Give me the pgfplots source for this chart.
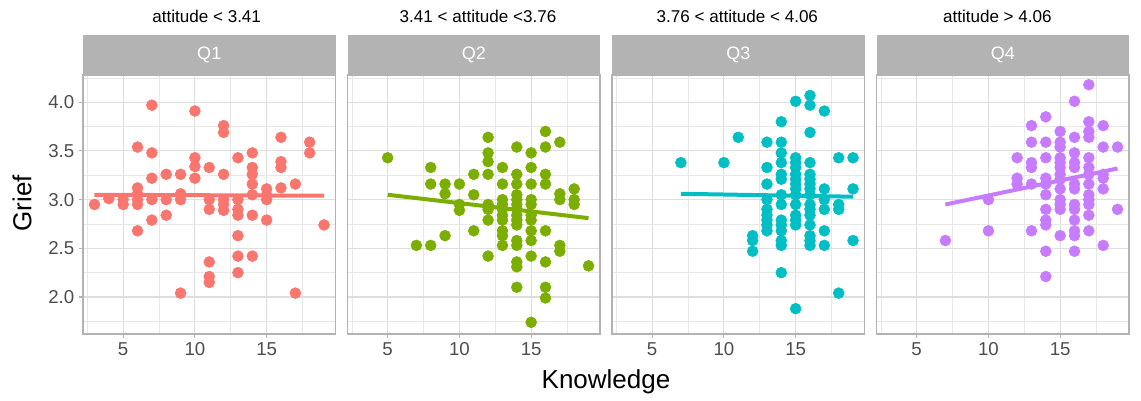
\documentclass[border=0pt]{standalone}
\usepackage{pgfplots}
\pgfplotsset{compat=1.18}
\usepackage{fontspec}
\setmainfont{Liberation Sans}
\definecolor{cQa}{HTML}{F8766D}
\definecolor{cQb}{HTML}{7CAE00}
\definecolor{cQc}{HTML}{00BFC4}
\definecolor{cQd}{HTML}{C77CFF}
\definecolor{g70}{HTML}{B3B3B3}
\definecolor{g87}{HTML}{DEDEDE}
\definecolor{g93}{HTML}{E8E8E8}
\definecolor{g30}{HTML}{4D4D4D}
\pgfplotsset{
  facet/.style={
    scale only axis, width=189.375pt, height=194.25pt,
    xmin=2.2, xmax=19.8, ymin=1.62, ymax=4.28,
    xtick={5,10,15}, ytick={2,2.5,3,3.5,4},
    minor xtick={2.5,7.5,12.5,17.5},
    minor ytick={1.75,2.25,2.75,3.25,3.75,4.25},
    yticklabel style={/pgf/number format/.cd,fixed,fixed zerofill,precision=1},
    /pgf/number format/assume math mode=true,
    grid=both,
    major grid style={draw=g87, line width=0.8pt},
    minor grid style={draw=g93, line width=0.45pt},
    axis line style={draw=g70, line width=0.8pt},
    tick align=outside, major tick length=3pt, minor tick length=0pt,
    tick style={draw=g70, line width=0.8pt},
    ticklabel style={font=\fontsize{14}{16}\selectfont, text=g30},
    xtick pos=bottom, ytick pos=left,
    clip=false,
  },
  noy/.style={yticklabels={}, ytick style={draw=none}},
  pts/.style={only marks, mark=*, mark size=4.1pt},
  fit/.style={line width=3pt, no marks},
}
\newcommand{\strip}[1]{%
  \fill[g70] (rel axis cs:0,1) rectangle ([yshift=30pt]rel axis cs:1,1);
  \node[text=white, font=\fontsize{13.5}{15}\selectfont] at ([yshift=15pt]rel axis cs:0.5,1) {#1};
}
\begin{document}
\begin{tikzpicture}
\useasboundingbox (0,0) rectangle (855.75pt,300pt);
% Q1
\begin{axis}[facet, at={(62.25pt,49.5pt)}, anchor=south west]
\strip{Q1}
\addplot[pts, color=cQa] coordinates {
(3,2.95)(4,3.01)(5,3.0)(5,2.95)
(6,3.54)(6,3.12)(6,3.06)(6,3.0)(6,2.95)(6,2.68)
(7,3.97)(7,3.48)(7,3.22)(7,3.0)(7,2.79)
(8,3.26)(8,3.0)(8,2.84)
(9,3.26)(9,3.06)(9,3.0)(9,2.04)
(10,3.91)(10,3.43)(10,3.34)(10,3.22)
(11,3.33)(11,3.0)(11,2.9)(11,2.36)(11,2.21)(11,2.15)
(12,3.76)(12,3.69)(12,3.26)(12,3.0)(12,2.95)(12,2.89)
(13,3.43)(13,3.0)(13,2.9)(13,2.84)(13,2.63)(13,2.42)(13,2.25)
(14,3.48)(14,3.33)(14,3.26)(14,3.16)(14,3.05)(14,2.84)(14,2.42)
(15,3.11)(15,3.05)(15,3.0)(15,2.79)
(16,3.64)(16,3.39)(16,3.33)(16,3.12)
(17,3.16)(17,2.04)
(18,3.59)(18,3.48)
(19,2.74)
};
\addplot[fit, cQa] coordinates {(3,3.05)(19,3.04)};
\end{axis}
% Q2
\begin{axis}[facet, noy, at={(260.625pt,49.5pt)}, anchor=south west]
\strip{Q2}
\addplot[pts, color=cQb] coordinates {
(5,3.43)
(7,2.53)
(8,3.33)(8,3.16)(8,2.53)
(9,3.16)(9,3.06)(9,2.63)
(10,3.16)(10,2.95)(10,2.89)
(11,3.26)(11,3.05)(11,2.68)
(12,3.64)(12,3.48)(12,3.39)(12,3.26)(12,2.95)(12,2.9)(12,2.79)(12,2.42)
(13,3.33)(13,3.16)(13,3.0)(13,2.95)(13,2.9)(13,2.84)(13,2.79)(13,2.68)(13,2.63)(13,2.53)
(14,3.54)(14,3.26)(14,3.16)(14,3.05)(14,3.0)(14,2.95)(14,2.9)(14,2.84)(14,2.79)(14,2.74)(14,2.58)(14,2.53)(14,2.36)(14,2.31)(14,2.10)
(15,3.48)(15,3.33)(15,3.16)(15,3.0)(15,2.95)(15,2.84)(15,2.79)(15,2.68)(15,2.58)(15,2.42)(15,1.74)
(16,3.70)(16,3.54)(16,3.26)(16,3.16)(16,2.68)(16,2.36)(16,2.10)(16,1.99)
(17,3.59)(17,3.06)(17,3.0)(17,2.53)(17,2.47)
(18,3.11)(18,3.0)(18,2.95)
(19,2.32)
};
\addplot[fit, cQb] coordinates {(5,3.05)(19,2.81)};
\end{axis}
% Q3
\begin{axis}[facet, noy, at={(459pt,49.5pt)}, anchor=south west]
\strip{Q3}
\addplot[pts, color=cQc] coordinates {
(7,3.38)
(10,3.38)
(11,3.64)
(12,2.63)(12,2.58)(12,2.47)
(13,3.59)(13,3.33)(13,3.16)(13,3.0)(13,2.9)(13,2.84)(13,2.79)(13,2.74)(13,2.68)
(14,3.80)(14,3.59)(14,3.48)(14,3.38)(14,3.26)(14,3.21)(14,3.05)(14,2.95)(14,2.79)(14,2.74)(14,2.68)(14,2.58)(14,2.53)(14,2.25)
(15,4.01)(15,3.43)(15,3.38)(15,3.33)(15,3.26)(15,3.21)(15,3.16)(15,3.11)(15,3.05)(15,2.95)(15,2.84)(15,2.79)(15,2.74)(15,1.88)
(16,4.07)(16,3.97)(16,3.69)(16,3.38)(16,3.26)(16,3.21)(16,3.16)(16,3.11)(16,3.05)(16,2.95)(16,2.9)(16,2.84)(16,2.74)(16,2.63)(16,2.58)(16,2.53)
(17,3.91)(17,3.11)(17,3.0)(17,2.9)(17,2.68)(17,2.53)
(18,3.43)(18,2.95)(18,2.9)(18,2.04)
(19,3.43)(19,3.11)(19,2.58)
};
\addplot[fit, cQc] coordinates {(7,3.06)(19,3.03)};
\end{axis}
% Q4
\begin{axis}[facet, noy, at={(657.375pt,49.5pt)}, anchor=south west]
\strip{Q4}
\addplot[pts, color=cQd] coordinates {
(7,2.58)
(10,3.0)(10,2.68)
(12,3.43)(12,3.22)(12,3.16)
(13,3.76)(13,3.59)(13,3.38)(13,3.33)(13,3.16)(13,2.68)
(14,3.85)(14,3.59)(14,3.43)(14,3.22)(14,3.16)(14,3.05)(14,2.9)(14,2.79)(14,2.74)(14,2.47)(14,2.21)
(15,3.70)(15,3.59)(15,3.54)(15,3.43)(15,3.38)(15,3.33)(15,3.26)(15,3.21)(15,3.11)(15,3.0)(15,2.95)(15,2.9)(15,2.63)
(16,4.01)(16,3.64)(16,3.48)(16,3.38)(16,3.33)(16,3.16)(16,3.11)(16,2.95)(16,2.9)(16,2.79)(16,2.68)(16,2.63)(16,2.47)
(17,4.18)(17,3.80)(17,3.70)(17,3.64)(17,3.43)(17,3.33)(17,3.26)(17,3.16)(17,3.05)(17,3.0)(17,2.95)(17,2.84)(17,2.68)
(18,3.76)(18,3.54)(18,3.26)(18,3.22)(18,3.11)(18,2.53)
(19,3.54)(19,2.9)
};
\addplot[fit, cQd] coordinates {(7,2.95)(19,3.32)};
\end{axis}
% titles
\node[font=\fontsize{12.8}{14}\selectfont] at (155pt,287.5pt) {attitude < 3.41};
\node[font=\fontsize{12.8}{14}\selectfont] at (358.5pt,287.5pt) {3.41 < attitude <3.76};
\node[font=\fontsize{12.8}{14}\selectfont] at (553pt,287.5pt) {3.76 < attitude < 4.06};
\node[font=\fontsize{12.8}{14}\selectfont] at (748pt,287.5pt) {attitude > 4.06};
\node[font=\fontsize{19.5}{22}\selectfont] at (454.5pt,13.5pt) {Knowledge};
\node[font=\fontsize{19.5}{22}\selectfont, rotate=90] at (16.5pt,147.4pt) {Grief};
\end{tikzpicture}
\end{document}
